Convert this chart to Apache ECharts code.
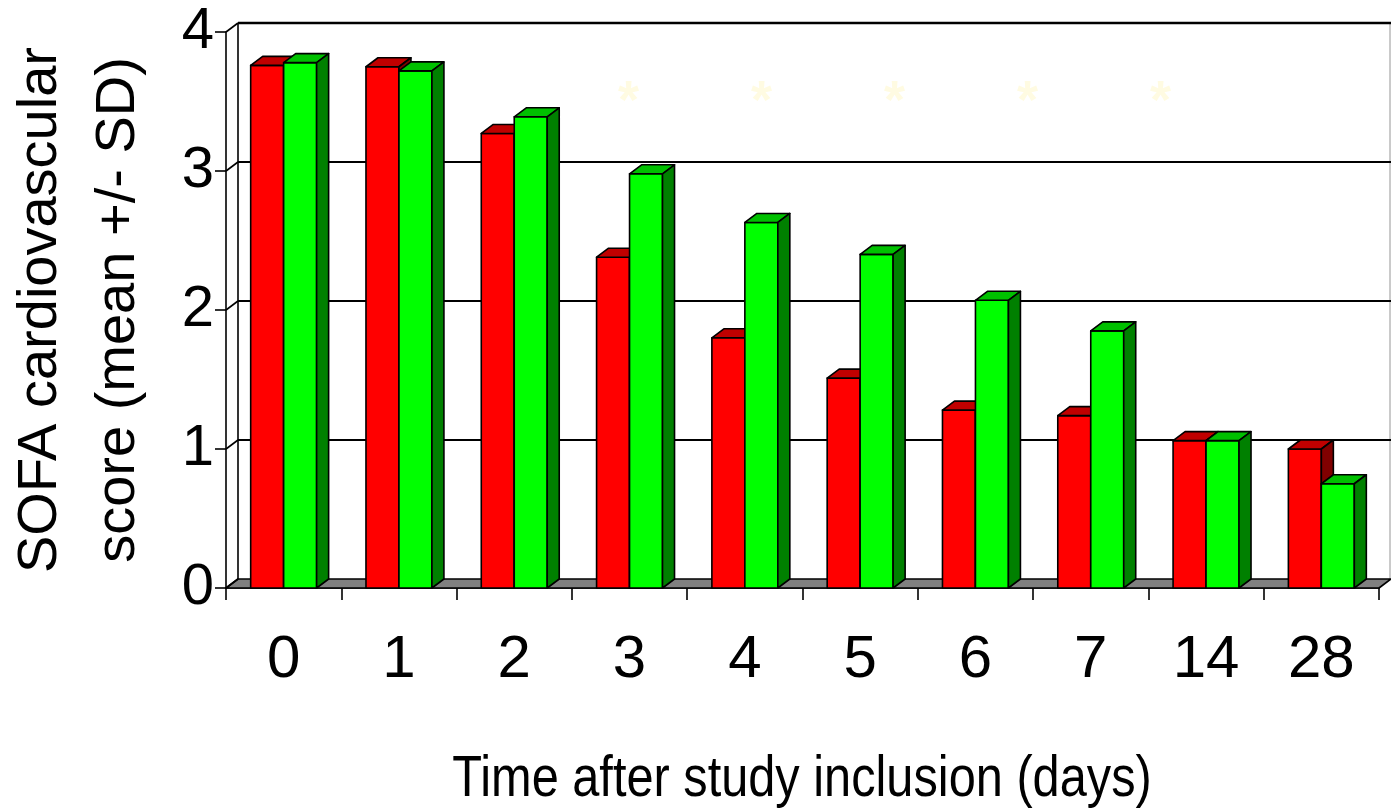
<!DOCTYPE html>
<html>
<head>
<meta charset="utf-8">
<script src="https://cdn.jsdelivr.net/npm/echarts@6/dist/echarts.min.js"></script>
<style>
html,body{margin:0;padding:0;background:#fff;}
#chart{width:1391px;height:811px;}
</style>
</head>
<body>
<div id="chart"></div>
<script>
// ---- data ----
const categories = ['0', '1', '2', '3', '4', '5', '6', '7', '14', '28'];
const redValues = [3.76, 3.75, 3.27, 2.38, 1.80, 1.51, 1.28, 1.24, 1.06, 1.00];
const greenValues = [3.78, 3.72, 3.39, 2.98, 2.63, 2.40, 2.07, 1.85, 1.06, 0.75];
const yTicks = [0, 1, 2, 3, 4];
const starMarks = ['*', '*', '*', '*', '*'];
const xTitle = 'Time after study inclusion (days)';
const yTitle = 'SOFA cardiovascular\nscore (mean +/- SD)';

// ---- styling constants ----
const DX = 12, DY = -9;           // 3D depth offset
const BAR_FRAC = 0.286;           // bar width as fraction of category width
const FONT = "'Liberation Sans', Arial, sans-serif";

const chart = echarts.init(document.getElementById('chart'), null, {renderer: 'canvas'});

function barRender(side, colors) {
  return function (params, api) {
    const cat = api.value(0);
    const top = api.coord([cat, api.value(1)]);
    const base = api.coord([cat, 0]);
    const bw = api.size([1, 0])[0] * BAR_FRAC;
    const x0 = side === 'left' ? top[0] - bw : top[0];
    const x1 = x0 + bw;
    const yt = top[1], yb = base[1];
    const st = {stroke: '#000', lineWidth: 1.6, lineJoin: 'round'};
    return {
      type: 'group',
      children: [
        {type: 'rect', shape: {x: x0, y: yt, width: bw, height: yb - yt},
          style: Object.assign({fill: colors[0]}, st)},
        {type: 'polygon', shape: {points: [[x0, yt], [x1, yt], [x1 + DX, yt + DY], [x0 + DX, yt + DY]]},
          style: Object.assign({fill: colors[1]}, st)},
        {type: 'polygon', shape: {points: [[x1, yt], [x1 + DX, yt + DY], [x1 + DX, yb + DY], [x1, yb]]},
          style: Object.assign({fill: colors[2]}, st)}
      ]
    };
  };
}

const option = {
  backgroundColor: '#ffffff',
  animation: false,
  grid: {left: 226, right: 12, top: 32, bottom: 223, containLabel: false, outerBoundsMode: 'none'},
  xAxis: {
    type: 'category',
    data: categories,
    boundaryGap: true,
    axisLine: {show: true, lineStyle: {color: '#000', width: 1.6}},
    axisTick: {show: true, length: 12, inside: false, lineStyle: {color: '#000', width: 1.6}},
    axisLabel: {fontFamily: FONT, fontSize: 60, color: '#000', margin: 42, interval: 0}
  },
  yAxis: {
    type: 'value',
    min: 0, max: 4, interval: 1,
    axisLine: {show: true, lineStyle: {color: '#000', width: 1.6}},
    axisTick: {show: true, length: 11, inside: false, lineStyle: {color: '#000', width: 1.6}},
    axisLabel: {fontFamily: FONT, fontSize: 58, color: '#000', margin: 12},
    splitLine: {show: false},
    name: yTitle,
    nameLocation: 'middle',
    nameRotate: 90,
    nameGap: 68,
    nameTextStyle: {fontFamily: FONT, fontSize: 56, color: '#000', lineHeight: 78}
  },
  graphic: starMarks.map(function (s, i) {
    return {
      type: 'text', left: 618 + i * 133, top: 76, z: 1,
      style: {text: s, fontFamily: FONT, fontSize: 54, fontWeight: 'bold', fill: '#fffbe2'}
    };
  }).concat([{
    type: 'text', x: 802, y: 780, scaleX: 0.84, z: 5,
    style: {text: xTitle, fontFamily: FONT, fontSize: 58, fill: '#000',
      align: 'center', verticalAlign: 'middle'}
  }]),
  series: [
    {
      // floor and back-wall edges
      type: 'custom', name: 'floor', silent: true, z: 1,
      data: [[0, 0]],
      renderItem: function (params, api) {
        const cs = params.coordSys;
        const yb = api.coord([0, 0])[1];
        const ytop = api.coord([0, yTicks[yTicks.length - 1]])[1];
        const x0 = cs.x, x1 = cs.x + cs.width;
        return {
          type: 'group',
          children: [
            {type: 'line', shape: {x1: x1 + DX - 1, y1: yb + DY, x2: x1 + DX - 1, y2: ytop + DY},
              style: {stroke: '#b8b8b8', lineWidth: 1.5}},
            {type: 'line', shape: {x1: x0 + DX, y1: yb + DY, x2: x0 + DX, y2: ytop + DY},
              style: {stroke: '#000', lineWidth: 1.6}},
            {type: 'polygon', shape: {points: [[x0, yb], [x1, yb], [x1 + DX, yb + DY], [x0 + DX, yb + DY]]},
              style: {fill: '#808080', stroke: '#000', lineWidth: 1.6, lineJoin: 'round'}}
          ]
        };
      }
    },
    {
      // gridlines on back wall + side-wall connectors
      type: 'custom', name: 'walls', silent: true, z: 1,
      data: yTicks.map(function (v) { return [0, v]; }),
      renderItem: function (params, api) {
        const cs = params.coordSys;
        const v = api.value(1);
        const y = api.coord([0, v])[1];
        const x0 = cs.x, x1 = cs.x + cs.width;
        const children = [
          {type: 'line', shape: {x1: x0, y1: y, x2: x0 + DX, y2: y + DY},
            style: {stroke: '#000', lineWidth: 1.6}}
        ];
        if (v > 0) {
          children.push({type: 'line', shape: {x1: x0 + DX, y1: y + DY, x2: x1 + DX, y2: y + DY},
            style: {stroke: '#000', lineWidth: v === 4 ? 2.4 : 1.8}});
        }
        return {type: 'group', children: children};
      }
    },
    {
      type: 'custom', name: 'Group A', z: 3,
      data: redValues.map(function (v, i) { return [i, v]; }),
      encode: {x: 0, y: 1},
      renderItem: barRender('left', ['#ff0000', '#c00000', '#800000'])
    },
    {
      type: 'custom', name: 'Group B', z: 3,
      data: greenValues.map(function (v, i) { return [i, v]; }),
      encode: {x: 0, y: 1},
      renderItem: barRender('right', ['#00ff00', '#00c000', '#008000'])
    }
  ]
};
chart.setOption(option);
</script>
</body>
</html>
